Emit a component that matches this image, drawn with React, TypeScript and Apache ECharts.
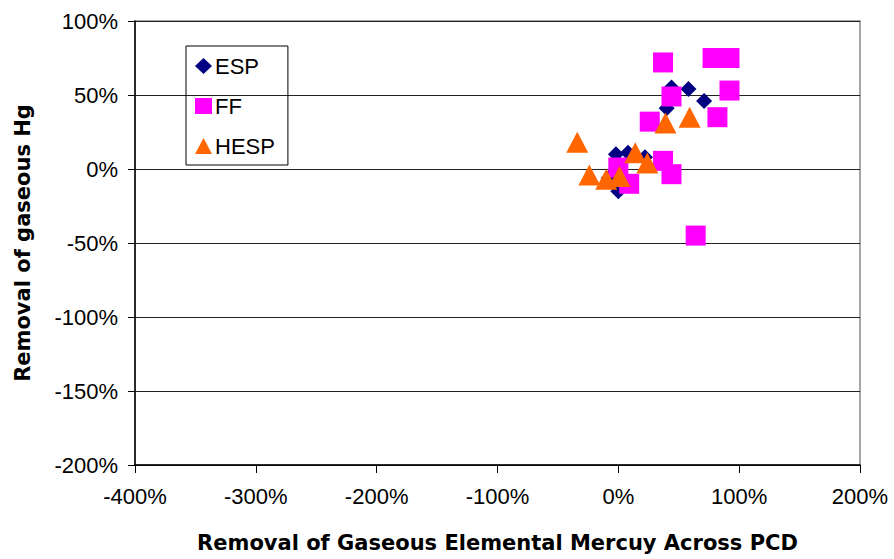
import React, { useEffect, useRef } from "react";
import * as echarts from "echarts";

const espData: number[][] = [
  [0, -15], [-8, -6], [-2, 10], [8, 11], [22, 8], [40, 41], [44, 55], [58, 54], [71, 46],
];
const ffData: number[][] = [
  [37, 72], [78, 75], [92, 75], [92, 53], [82, 35], [44, 49], [26, 32], [37, 5.5],
  [44, -3.5], [0, 1], [9, -10], [64, -45],
];
const hespData: number[][] = [
  [-34, 18], [-24, -4], [-10, -7], [1, -5], [14, 11], [24, 4], [39, 31], [59, 35],
];
const xTicks = { min: -400, max: 200, interval: 100 };
const yTicks = { min: -200, max: 100, interval: 50 };

const FONT = "'Liberation Sans', Arial, sans-serif";
const TITLE_FONT = "'DejaVu Sans', sans-serif";

export default function App() {
  const ref = useRef<HTMLDivElement>(null);
  useEffect(() => {
    if (!ref.current) return;
    const chart = echarts.init(ref.current, undefined, { renderer: "svg" });
    chart.setOption({
      animation: false,
      backgroundColor: "#ffffff",
      textStyle: { fontFamily: FONT },
      grid: {
        left: 135, right: 34, top: 21, bottom: 94,
        outerBoundsMode: "none",
        containLabel: false,
        show: true, borderColor: "#888888", borderWidth: 1.5, backgroundColor: "transparent",
      },
      legend: {
        orient: "vertical",
        left: 186, top: 46,
        borderColor: "#000000", borderWidth: 1,
        padding: [9, 13, 8, 9],
        itemGap: 18,
        itemWidth: 17, itemHeight: 16,
        textStyle: { fontSize: 22, color: "#000", fontFamily: FONT, padding: [0, 0, 0, -2] },
        data: [
          { name: "ESP", icon: "diamond" },
          { name: "FF", icon: "rect" },
          { name: "HESP", icon: "triangle" },
        ],
      },
      xAxis: {
        type: "value",
        min: xTicks.min, max: xTicks.max, interval: xTicks.interval,
        name: "Removal of Gaseous Elemental Mercuy Across PCD",
        nameLocation: "middle", nameGap: 67,
        nameTextStyle: { fontSize: 21, fontWeight: "bold", color: "#000", fontFamily: TITLE_FONT },
        axisLine: { onZero: false, lineStyle: { color: "#000", width: 1.5 } },
        axisTick: { show: true, length: 8, lineStyle: { color: "#000" } },
        axisLabel: { formatter: "{value}%", fontSize: 22, color: "#000", margin: 20, fontFamily: FONT },
        splitLine: { show: false },
      },
      yAxis: {
        type: "value",
        min: yTicks.min, max: yTicks.max, interval: yTicks.interval,
        name: "Removal of gaseous Hg",
        nameLocation: "middle", nameGap: 102,
        nameTextStyle: { fontSize: 21, fontWeight: "bold", color: "#000", fontFamily: TITLE_FONT },
        axisLine: { onZero: false, lineStyle: { color: "#000", width: 1.5 } },
        axisTick: { show: true, length: 7, lineStyle: { color: "#000" } },
        axisLabel: { formatter: "{value}%", fontSize: 22, color: "#000", margin: 17, fontFamily: FONT },
        splitLine: { show: true, lineStyle: { color: "#222", width: 1 } },
      },
      series: [
        {
          name: "ESP", type: "scatter", data: espData,
          symbol: "diamond", symbolSize: 16,
          itemStyle: { color: "#000080", opacity: 1 },
        },
        {
          name: "FF", type: "scatter", data: ffData,
          symbol: "rect", symbolSize: 20,
          itemStyle: { color: "#FF00FF", opacity: 1 },
        },
        {
          name: "HESP", type: "scatter", data: hespData,
          symbol: "triangle", symbolSize: [22, 21],
          itemStyle: { color: "#FF6600", opacity: 1 },
        },
      ],
    });
    return () => chart.dispose();
  }, []);
  return <div ref={ref} style={{ width: 894, height: 559, position: "absolute", left: 0, top: 0 }} />;
}
